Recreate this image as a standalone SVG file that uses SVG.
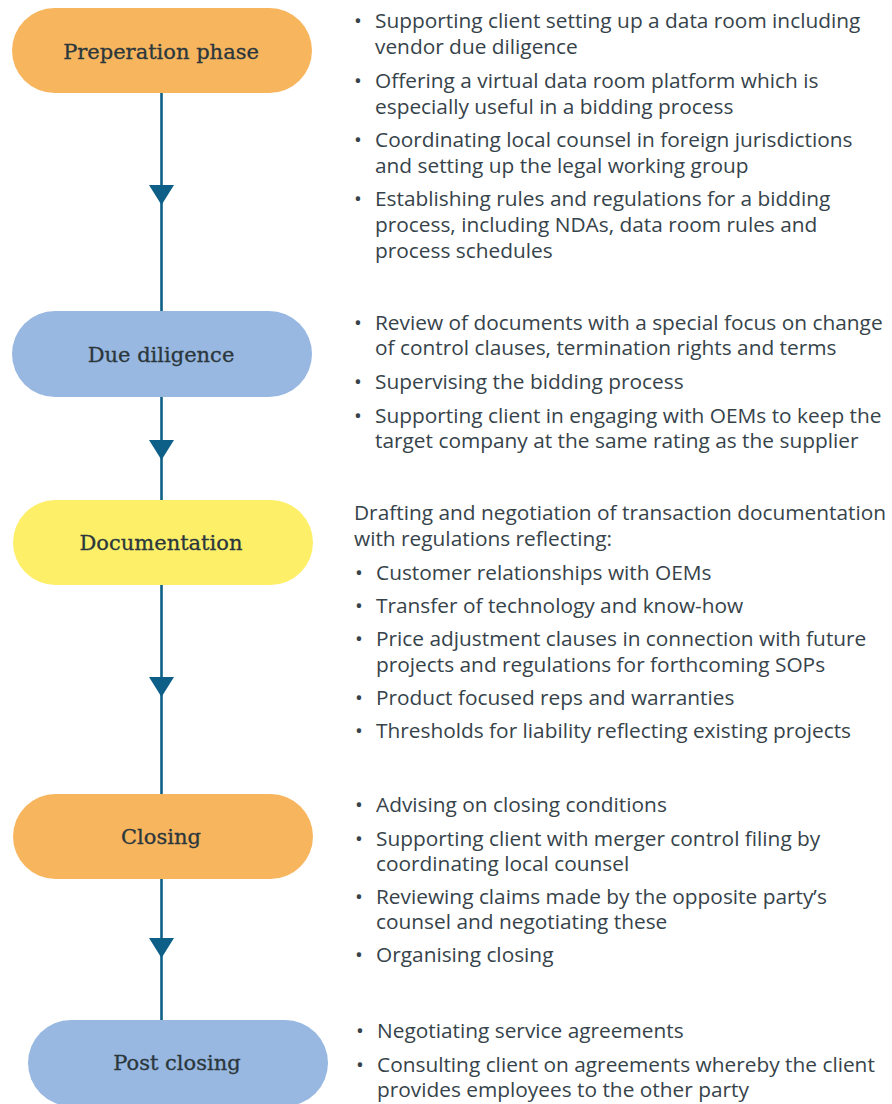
<svg xmlns="http://www.w3.org/2000/svg" width="892" height="1104" viewBox="0 0 892 1104">
<style>
.node-orange{fill:#F7B55E}
.node-blue{fill:#98B8E1}
.node-yellow{fill:#FDEF68}
.label{font-family:"DejaVu Serif","Liberation Serif",serif;font-size:21px;fill:#2B373C;stroke:#2B373C;stroke-width:0.3;text-anchor:middle}
.body{font-family:"Open Sans","Liberation Sans",sans-serif;font-size:20.85px;fill:#36434A}
.conn{fill:none;stroke:#0D5F87;stroke-width:2.6}
</style>
<defs>
<marker id="arrow" markerUnits="userSpaceOnUse" markerWidth="20" markerHeight="26" viewBox="0 0 20 26" refX="19" refY="13" orient="auto">
<path d="M0,0.5 L20,13 L0,25.5 Z" fill="#0D5F87"/>
</marker>
</defs>
<rect width="892" height="1104" fill="#FFFFFF"/>
<g id="connectors">
<polyline class="conn" points="161.5,93 161.5,204 161.5,311" marker-mid="url(#arrow)"/>
<polyline class="conn" points="161.5,397 161.5,459 161.5,500" marker-mid="url(#arrow)"/>
<polyline class="conn" points="161.5,585 161.5,696 161.5,794" marker-mid="url(#arrow)"/>
<polyline class="conn" points="161.5,879 161.5,957 161.5,1020" marker-mid="url(#arrow)"/>
</g>
<g id="node-preparation">
<rect class="node-orange" x="12" y="8" width="300" height="85" rx="42.5"/>
<text class="label" x="161" y="59">Preperation phase</text>
</g>
<g id="node-due-diligence">
<rect class="node-blue" x="12" y="311" width="300" height="86" rx="43"/>
<text class="label" x="161" y="362">Due diligence</text>
</g>
<g id="node-documentation">
<rect class="node-yellow" x="13" y="500" width="300" height="85" rx="42.5"/>
<text class="label" x="161" y="550">Documentation</text>
</g>
<g id="node-closing">
<rect class="node-orange" x="13" y="794" width="300" height="85" rx="42.5"/>
<text class="label" x="161" y="844">Closing</text>
</g>
<g id="node-post-closing">
<rect class="node-blue" x="28" y="1020" width="300" height="86" rx="43"/>
<text class="label" x="177" y="1070">Post closing</text>
</g>
<g id="text-preparation" class="body">
<text x="354" y="28">•</text><text x="375" y="28">Supporting client setting up a data room including</text>
<text x="375" y="54">vendor due diligence</text>
<text x="354" y="88">•</text><text x="375" y="88">Offering a virtual data room platform which is</text>
<text x="375" y="114">especially useful in a bidding process</text>
<text x="354" y="147">•</text><text x="375" y="147">Coordinating local counsel in foreign jurisdictions</text>
<text x="375" y="173">and setting up the legal working group</text>
<text x="354" y="206">•</text><text x="375" y="206">Establishing rules and regulations for a bidding</text>
<text x="375" y="232">process, including NDAs, data room rules and</text>
<text x="375" y="258">process schedules</text>
</g>
<g id="text-due-diligence" class="body">
<text x="354" y="330">•</text><text x="375" y="330">Review of documents with a special focus on change</text>
<text x="375" y="355">of control clauses, termination rights and terms</text>
<text x="354" y="389">•</text><text x="375" y="389">Supervising the bidding process</text>
<text x="354" y="423">•</text><text x="375" y="423">Supporting client in engaging with OEMs to keep the</text>
<text x="375" y="448">target company at the same rating as the supplier</text>
</g>
<g id="text-documentation" class="body">
<text x="354" y="520">Drafting and negotiation of transaction documentation</text>
<text x="354" y="546">with regulations reflecting:</text>
<text x="355" y="580">•</text><text x="376" y="580">Customer relationships with OEMs</text>
<text x="355" y="613">•</text><text x="376" y="613">Transfer of technology and know-how</text>
<text x="355" y="646">•</text><text x="376" y="646">Price adjustment clauses in connection with future</text>
<text x="376" y="672">projects and regulations for forthcoming SOPs</text>
<text x="355" y="705">•</text><text x="376" y="705">Product focused reps and warranties</text>
<text x="355" y="738">•</text><text x="376" y="738">Thresholds for liability reflecting existing projects</text>
</g>
<g id="text-closing" class="body">
<text x="355" y="812">•</text><text x="376" y="812">Advising on closing conditions</text>
<text x="355" y="846">•</text><text x="376" y="846">Supporting client with merger control filing by</text>
<text x="376" y="871">coordinating local counsel</text>
<text x="355" y="904">•</text><text x="376" y="904">Reviewing claims made by the opposite party’s</text>
<text x="376" y="929">counsel and negotiating these</text>
<text x="355" y="962">•</text><text x="376" y="962">Organising closing</text>
</g>
<g id="text-post-closing" class="body">
<text x="356" y="1038">•</text><text x="377" y="1038">Negotiating service agreements</text>
<text x="356" y="1072">•</text><text x="377" y="1072">Consulting client on agreements whereby the client</text>
<text x="377" y="1097">provides employees to the other party</text>
</g>
</svg>
